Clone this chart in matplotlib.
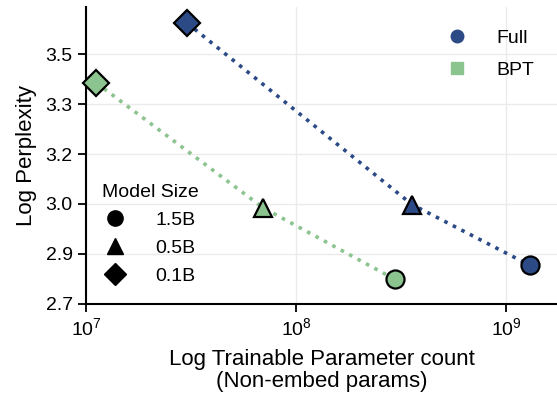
import matplotlib
matplotlib.use("Agg")
import matplotlib.pyplot as plt
from matplotlib.lines import Line2D
from matplotlib.ticker import FixedLocator, FormatStrFormatter, NullLocator
import numpy as np

plt.rcParams['font.family'] = ['Liberation Sans', 'DejaVu Sans']

# --- Data ---
sizes = ["0.1B", "0.5B", "1.5B"]
size_markers = ["D", "^", "o"]

full_params = [3.03e7, 3.57e8, 1.30e9]
full_ppl = [3.600, 3.018, 2.823]

bpt_params = [1.12e7, 6.96e7, 2.96e8]
bpt_ppl = [3.408, 3.008, 2.778]

y_ticks = np.linspace(2.7, 3.5, 6)

full_color = '#2c4a86'
bpt_color = '#8cc490'

fig = plt.figure(figsize=(5.57, 3.97), dpi=100)
ax = fig.add_axes([0.1544, 0.235, 0.8456, 0.747])

# dotted trend lines
for xs, ys, c in [(full_params, full_ppl, full_color), (bpt_params, bpt_ppl, bpt_color)]:
    ax.plot(xs, ys, linestyle=':', linewidth=2.6, color=c, zorder=2)
    for x, y, m in zip(xs, ys, size_markers):
        ax.plot([x], [y], marker=m, markersize=13, markerfacecolor=c,
                markeredgecolor='black', markeredgewidth=1.6, linestyle='none',
                zorder=3, clip_on=False)

ax.set_xscale('log')
ax.set_xlim(1e7, 10 ** 9.243)
ax.set_ylim(2.7, 3.651)
ax.xaxis.set_minor_locator(NullLocator())
ax.yaxis.set_major_locator(FixedLocator(y_ticks))
ax.yaxis.set_major_formatter(FormatStrFormatter('%.1f'))

ax.grid(True, color='#ebebeb', linewidth=1.0, zorder=0)
ax.set_axisbelow(True)
for side in ['top', 'right']:
    ax.spines[side].set_visible(False)
for side in ['left', 'bottom']:
    ax.spines[side].set_linewidth(1.5)
ax.tick_params(axis='both', labelsize=14, length=6, width=1.3)

ax.set_xlabel("Log Trainable Parameter count\n(Non-embed params)", fontsize=16,
              linespacing=1.1, labelpad=7)
ax.set_ylabel("Log Perplexity", fontsize=16, labelpad=6)

# method legend
method_handles = [
    Line2D([], [], marker='o', color=full_color, linestyle='none', markersize=9),
    Line2D([], [], marker='s', color=bpt_color, linestyle='none', markersize=9),
]
leg1 = ax.legend(method_handles, ["Full", "BPT"], loc='upper right',
                 bbox_to_anchor=(0.989, 0.983), frameon=False, fontsize=14,
                 handlelength=1.0, handletextpad=1.55, labelspacing=0.7)
ax.add_artist(leg1)

# model size legend
size_handles = [Line2D([], [], marker=m, color='black', linestyle='none', markersize=11)
                for m in ["o", "^", "D"]]
ax.legend(size_handles, ["1.5B", "0.5B", "0.1B"], title="Model Size",
          title_fontsize=14, fontsize=14, loc='lower left',
          bbox_to_anchor=(-0.003, 0.005), frameon=False,
          handlelength=1.0, handletextpad=1.55, labelspacing=0.53)

fig.savefig("out.png", dpi=100)
